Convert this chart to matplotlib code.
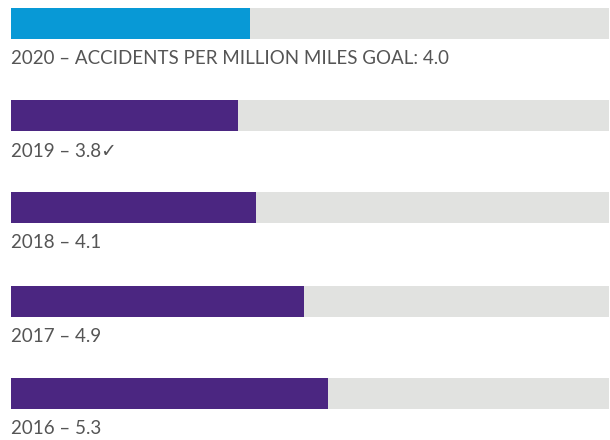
import matplotlib
matplotlib.use('Agg')
import matplotlib.pyplot as plt

years = ['2020', '2019', '2018', '2017', '2016']
values = [4.0, 3.8, 4.1, 4.9, 5.3]
labels = [
    '2020 \u2013 ACCIDENTS PER MILLION MILES GOAL: 4.0',
    '2019 \u2013 3.8\u2713',
    '2018 \u2013 4.1',
    '2017 \u2013 4.9',
    '2016 \u2013 5.3',
]
scale_max = 10.0

BLUE = '#0899d6'
PURPLE = '#4b2681'
TRACK = '#e1e2e0'
TEXT = '#555555'

plt.rcParams['font.family'] = ['Lato', 'DejaVu Sans']

W, H = 610, 440
fig = plt.figure(figsize=(W / 100, H / 100), dpi=100)
ax = fig.add_axes([11 / W, 0, 598 / W, 1])
ax.set_xlim(0, scale_max)
ax.set_ylim(H, 0)
ax.axis('off')

centers = [23.5, 116, 207.5, 301.5, 393.5]
bar_h = 31
for i, (val, lab) in enumerate(zip(values, labels)):
    yc = centers[i]
    color = BLUE if i == 0 else PURPLE
    ax.barh(yc, scale_max, height=bar_h, left=0, color=TRACK, linewidth=0)
    ax.barh(yc, val, height=bar_h, left=0, color=color, linewidth=0)
    ax.text(0, yc + 35.5, lab, ha='left', va='center', fontsize=13.5,
            color=TEXT, clip_on=False)

fig.savefig('out.png', dpi=100)
